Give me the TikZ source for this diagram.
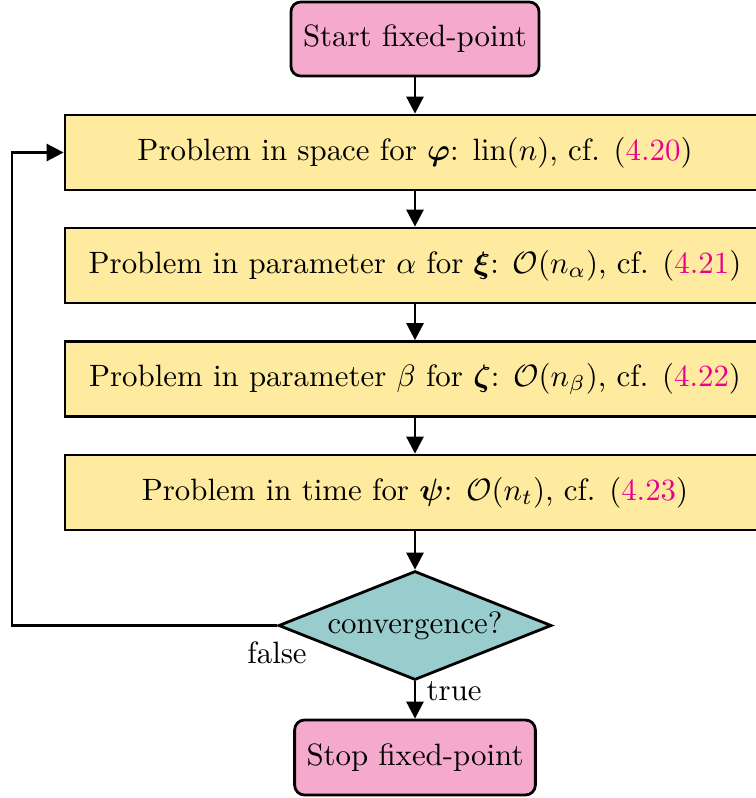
\documentclass[tikz,border=0pt]{standalone}
\usepackage{tikz}
\usetikzlibrary{arrows.meta,positioning,shapes.geometric}
\usepackage{xcolor}
\usepackage{amsmath}
\usepackage{bm}
\definecolor{startstop}{HTML}{F5AACD}
\definecolor{process}{HTML}{FEEBA0}
\definecolor{decision}{HTML}{99CDCD}
\definecolor{eqref}{HTML}{EB008C}

\newcommand{\eqlink}[1]{(\textcolor{eqref}{#1})}

\begin{document}
\begin{tikzpicture}[
  x=0.324pt, y=-0.324pt,
  >={Triangle[length=5.5pt,width=5.5pt]},
  line width=0.9pt,
  term/.style={draw, fill=startstop, rounded corners=3.2pt, minimum height=24pt},
  proc/.style={draw, fill=process, minimum width=226.8pt, minimum height=24.3pt},
  dec/.style={draw, fill=decision, diamond, aspect=2.5, inner sep=0pt, minimum width=88.5pt, minimum height=35.3pt},
]
\useasboundingbox (0,0) rectangle (756,798);

\node[term, minimum width=80.4pt] (start) at (415, 39) {Start fixed-point};

\node[proc] (space) at (415, 152.5) {Problem in space for $\bm{\varphi}$: $\operatorname{lin}(n)$, cf. \eqlink{4.20}};
\node[proc] (alpha) at (415, 265.5) {Problem in parameter $\alpha$ for $\bm{\xi}$: $\mathcal{O}(n_\alpha)$, cf. \eqlink{4.21}};
\node[proc] (beta) at (415, 379) {Problem in parameter $\beta$ for $\bm{\zeta}$: $\mathcal{O}(n_\beta)$, cf. \eqlink{4.22}};
\node[proc] (time) at (415, 492.5) {Problem in time for $\bm{\psi}$: $\mathcal{O}(n_t)$, cf. \eqlink{4.23}};

\node[dec] (conv) at (415, 625.5) {convergence?};

\node[term, minimum width=78pt, minimum height=24.3pt] (stop) at (415, 757.5) {Stop fixed-point};

\coordinate (back) at (12, 625.5);

\draw[->] (start) -- (space);
\draw[->] (space) -- (alpha);
\draw[->] (alpha) -- (beta);
\draw[->] (beta) -- (time);
\draw[->] (time) -- (conv);
\draw[->] (conv) -- node[pos=0.25, right] (truelbl) {true} (stop);
\draw[->] (conv.west) -- (back) |- (space.west);
\node[below=1.5pt] (falselbl) at (conv.west) {false};

\end{tikzpicture}
\end{document}
